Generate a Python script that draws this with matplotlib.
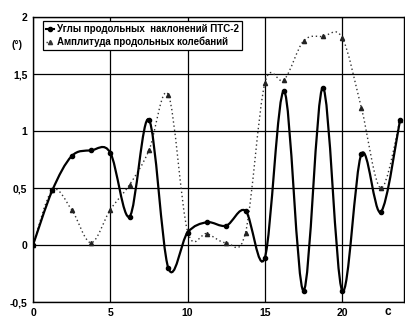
import numpy as np
import matplotlib
matplotlib.use("Agg")
import matplotlib.pyplot as plt
from matplotlib.path import Path
from matplotlib.patches import PathPatch
from matplotlib.lines import Line2D
from matplotlib.ticker import FuncFormatter

plt.rcParams['font.family'] = ['Liberation Sans', 'DejaVu Sans']

# время, с
t = [0, 1.25, 2.5, 3.75, 5, 6.25, 7.5, 8.75, 10, 11.25,
     12.5, 13.75, 15, 16.25, 17.5, 18.75, 20, 21.25, 22.5, 23.75]
# углы продольных наклонений ПТС-2, град
angle = [0, 0.48, 0.78, 0.83, 0.81, 0.25, 1.1, -0.2, 0.11, 0.2,
         0.17, 0.3, -0.11, 1.35, -0.4, 1.38, -0.4, 0.8, 0.29, 1.1]
# амплитуда продольных колебаний, град
ampl = [0, 0.48, 0.31, 0.02, 0.31, 0.53, 0.83, 1.32, 0.12, 0.1,
        0.02, 0.11, 1.42, 1.45, 1.79, 1.83, 1.82, 1.2, 0.5, 1.1]

x_ticks = [0, 5, 10, 15, 20]
y_ticks = [-0.5, 0, 0.5, 1, 1.5, 2]


def smooth_path(x, y):
    # сглаженная линия через точки (кубические кривые Безье, как в Excel)
    p = np.column_stack([x, y]).astype(float)
    n = len(p)
    verts = [p[0]]
    codes = [Path.MOVETO]
    for i in range(n - 1):
        p0 = p[i - 1] if i > 0 else p[i]
        p1 = p[i]
        p2 = p[i + 1]
        p3 = p[i + 2] if i + 2 < n else p[i + 1]
        c1 = p1 + (p2 - p0) / 6
        c2 = p2 - (p3 - p1) / 6
        verts += [c1, c2, p2]
        codes += [Path.CURVE4] * 3
    return Path(verts, codes)


fig = plt.figure(figsize=(4.05, 3.22), dpi=100)
ax = fig.add_axes([0.0815, 0.062, 0.916, 0.885])

ax.add_patch(PathPatch(smooth_path(t, ampl), fill=False, edgecolor='#333333',
                       lw=1.0, linestyle=(0, (1, 2)), zorder=3))
ax.plot(t, ampl, linestyle='none', marker='^', ms=3, color='#222222', zorder=4)

ax.add_patch(PathPatch(smooth_path(t, angle), fill=False, edgecolor='black',
                       lw=1.6, zorder=5))
ax.plot(t, angle, linestyle='none', marker='o', ms=3, color='black', zorder=6)

ax.set_xlim(0, 24)
ax.set_ylim(-0.5, 2)
ax.set_xticks(x_ticks)
ax.set_yticks(y_ticks)
ax.yaxis.set_major_formatter(FuncFormatter(lambda v, pos: f"{v:g}".replace('.', ',')))
ax.tick_params(length=0, labelsize=7.5, pad=4)
for lab in ax.get_xticklabels() + ax.get_yticklabels():
    lab.set_fontweight('bold')
ax.grid(True, color='black', lw=0.9)
for s in ax.spines.values():
    s.set_linewidth(1.0)

handles = [
    Line2D([], [], color='black', lw=1.5, marker='o', ms=3),
    Line2D([], [], color='#333333', lw=1.0, linestyle=(0, (1, 2)), marker='^', ms=3),
]
labels = ['Углы продольных  наклонений ПТС-2', 'Амплитуда продольных колебаний']
leg = ax.legend(handles, labels, loc='upper left', bbox_to_anchor=(0.027, 0.985),
                fancybox=False, edgecolor='black', framealpha=1,
                prop={'size': 7, 'weight': 'bold'}, handlelength=0.8,
                handletextpad=0.3, borderpad=0.3, labelspacing=0.25,
                borderaxespad=0)
leg.get_frame().set_linewidth(0.9)
leg.set_zorder(10)

fig.text(17 / 405, 1 - 45 / 322, '(°)', fontsize=7.5, fontweight='bold',
         ha='center', va='center')
fig.text(388 / 405, 1 - 312 / 322, 'с', fontsize=8.5, fontweight='bold',
         ha='center', va='center')

fig.savefig('out.png', dpi=100)
